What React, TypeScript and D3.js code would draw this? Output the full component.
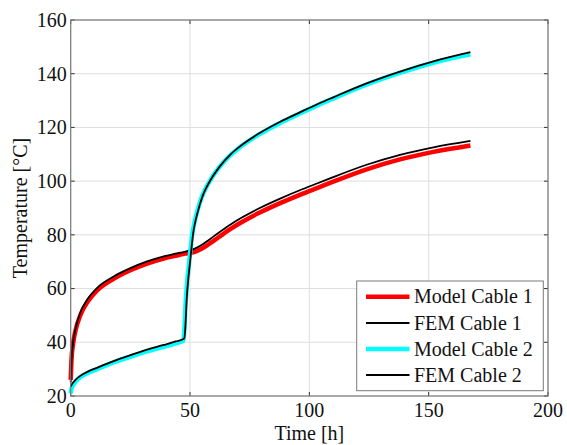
import React from "react";
import * as d3 from "d3";

const xTicks = [0, 50, 100, 150, 200];
const yTicks = [20, 40, 60, 80, 100, 120, 140, 160];

const tModel1 = [0, 0.3, 1, 2, 4, 7, 11, 18, 25, 32, 39, 44, 48, 50, 52, 55, 58, 62, 67, 71, 79, 88, 96, 104, 110, 124, 138, 152, 167.5];
const vModel1 = [26, 33, 39.5, 44.3, 50, 55, 59.2, 63.6, 66.8, 69.3, 71.2, 72.2, 73, 73.3, 73.7, 74.9, 76.6, 79.1, 82.2, 84.4, 88.2, 91.9, 94.9, 97.7, 99.8, 104.4, 108.1, 110.9, 113.3];

const tFem1 = [0, 0.3, 1, 2, 4, 7, 11, 18, 25, 32, 39, 44, 48, 50, 52, 55, 58, 62, 67, 71, 79, 88, 96, 104, 110, 124, 138, 152, 167.5];
const vFem1 = [25, 33, 40, 45, 51, 56, 60.2, 64.5, 67.6, 70.1, 72, 73, 73.8, 74.3, 74.9, 76.3, 78.2, 80.8, 83.9, 86.1, 89.9, 93.6, 96.6, 99.4, 101.5, 106.1, 109.8, 112.6, 115];

const tModel2 = [0, 0.3, 1, 2, 4, 7, 11, 18, 25, 32, 39, 44, 47.2, 47.6, 48.2, 48.8, 49.5, 50.2, 50.9, 52.1, 53.6, 55.1, 57.6, 62.1, 66.6, 70.6, 78.6, 87.6, 95.6, 103.6, 109.6, 123.6, 137.6, 151.6, 167.5];
const vModel2 = [21, 22.5, 24, 25.3, 27, 28.5, 30, 32.5, 34.6, 36.6, 38.3, 39.6, 40.6, 44.5, 55, 62.5, 68.5, 74.5, 80, 85.5, 90.5, 94.5, 99, 105, 109.4, 112.4, 117.2, 121.6, 125, 128.3, 130.6, 135.8, 140.2, 144, 147.2];

const tFem2 = [0, 0.3, 1, 2, 4, 7, 11, 18, 25, 32, 39, 44, 47.6, 48, 48.6, 49.2, 49.9, 50.6, 51.3, 52.5, 54, 55.5, 58, 62.5, 67, 71, 79, 88, 96, 104, 110, 124, 138, 152, 167.5];
const vFem2 = [23.5, 24, 25, 26, 27.5, 29, 30.5, 33, 35.2, 37.3, 39, 40.3, 41.4, 45, 56, 63, 69, 75, 80.5, 86, 91, 95, 99.5, 105.5, 110, 113, 117.8, 122.2, 125.6, 128.9, 131.2, 136.4, 140.8, 144.6, 148];

const seriesNames = ["Model Cable 1", "FEM Cable 1", "Model Cable 2", "FEM Cable 2"];
const seriesColors = ["#ff0000", "#000000", "#00ffff", "#000000"];
const seriesWidths = [4.5, 1.8, 4.5, 1.8];

const W = 567, H = 445;
const L = 70.7, R = 548, T = 20, B = 396;
const FONT = "'Liberation Serif', 'Tinos', 'Times New Roman', 'FreeSerif', 'Nimbus Roman', 'DejaVu Serif'";

export default function App() {
  const x = d3.scaleLinear().domain([0, 200]).range([L, R]);
  const y = d3.scaleLinear().domain([20, 160]).range([B, T]);
  const line = d3.line<[number, number]>().x(d => x(d[0])).y(d => y(d[1])).curve(d3.curveMonotoneX);
  const data: [number, number][][] = [
    tModel1.map((t, i) => [t, vModel1[i]]),
    tFem1.map((t, i) => [t, vFem1[i]]),
    tModel2.map((t, i) => [t, vModel2[i]]),
    tFem2.map((t, i) => [t, vFem2[i]]),
  ];
  const tl = 4;
  const axisColor = "#7a7a7a";
  const lgX = 356.7, lgY = 281, lgW = 186.6, lgH = 109.7;
  const rowYs = [296.7, 323, 349, 375];
  const tp = { fontFamily: FONT, fontSize: 20, fill: "#111", style: { fontFamily: FONT, fontSize: "20px" } };
  return (
    <div style={{ fontFamily: FONT }}>
      <svg width={W} height={H} fontFamily={FONT} style={{ position: "absolute", left: 0, top: 0, background: "#fff", fontFamily: FONT }}>
        <rect x={0} y={0} width={W} height={H} fill="#fff" />
        {xTicks.map(v => (
          <line key={"gx" + v} x1={x(v)} x2={x(v)} y1={T} y2={B} stroke="#dedede" strokeWidth={1} />
        ))}
        {yTicks.map(v => (
          <line key={"gy" + v} x1={L} x2={R} y1={y(v)} y2={y(v)} stroke="#dedede" strokeWidth={1} />
        ))}
        {xTicks.map(v => (
          <g key={"tx" + v}>
            <line x1={x(v)} x2={x(v)} y1={B} y2={B - tl} stroke="#333" strokeWidth={1} />
            <line x1={x(v)} x2={x(v)} y1={T} y2={T + tl} stroke="#333" strokeWidth={1} />
          </g>
        ))}
        {yTicks.map(v => (
          <g key={"ty" + v}>
            <line x1={L} x2={L + tl} y1={y(v)} y2={y(v)} stroke="#333" strokeWidth={1} />
            <line x1={R} x2={R - tl} y1={y(v)} y2={y(v)} stroke="#333" strokeWidth={1} />
          </g>
        ))}
        {data.map((d, i) => (
          <path key={"s" + i} d={line(d) || ""} fill="none" stroke={seriesColors[i]} strokeWidth={seriesWidths[i]} strokeLinejoin="round" />
        ))}
        <rect x={L} y={T} width={R - L} height={B - T} fill="none" stroke={axisColor} strokeWidth={1.2} />
        {xTicks.map(v => (
          <text key={"lx" + v} {...tp} x={x(v)} y={417} textAnchor="middle">{v}</text>
        ))}
        {yTicks.map(v => (
          <text key={"ly" + v} {...tp} x={L - 4} y={y(v) + 6.8} textAnchor="end">{v}</text>
        ))}
        <text {...tp} x={(L + R) / 2} y={440} textAnchor="middle">Time [h]</text>
        <text {...tp} transform={`translate(27, ${(T + B) / 2}) rotate(-90)`} textAnchor="middle">Temperature [°C]</text>
        <rect x={lgX} y={lgY} width={lgW} height={lgH} fill="#fff" stroke={axisColor} strokeWidth={1} />
        {seriesNames.map((n, i) => (
          <g key={"lg" + i}>
            <line x1={366} x2={409.5} y1={rowYs[i]} y2={rowYs[i]} stroke={seriesColors[i]} strokeWidth={seriesWidths[i]} />
            <text {...tp} x={414} y={rowYs[i] + 6.5}>{n}</text>
          </g>
        ))}
      </svg>
    </div>
  );
}
